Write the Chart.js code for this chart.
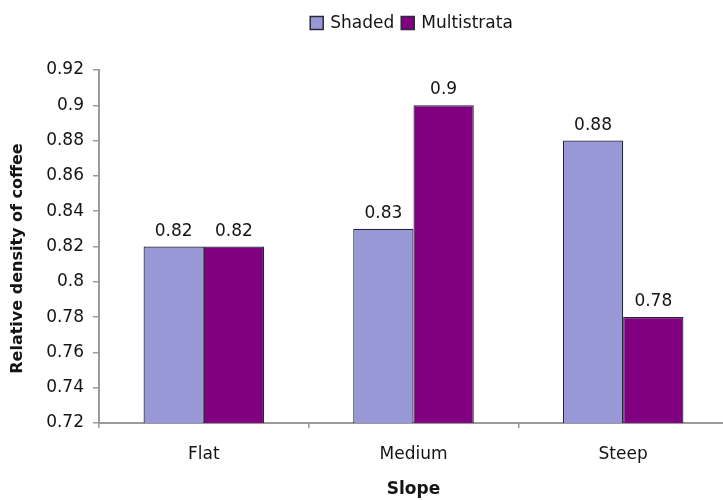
<!DOCTYPE html>
<html>
<head>
<meta charset="utf-8">
<script src="https://cdn.jsdelivr.net/npm/chart.js@4/dist/chart.umd.min.js"></script>
<style>
  html, body { margin: 0; padding: 0; background: #ffffff; overflow: hidden; }
  #wrap { width: 733px; height: 500px; }
</style>
</head>
<body>
<div id="wrap"><canvas id="chart" width="733" height="500"></canvas></div>
<script>
// Slope classes on the x axis
const categories = ['Flat', 'Medium', 'Steep'];
// Relative density of coffee for each system
const shadedValues = [0.82, 0.83, 0.88];
const multistrataValues = [0.82, 0.9, 0.78];
const seriesNames = ['Shaded', 'Multistrata'];
// Value axis range and tick step
const yMin = 0.72;
const yMax = 0.92;
const yStep = 0.02;
const yTitle = 'Relative density of coffee';

const FONT = '"DejaVu Sans", "Liberation Sans", Arial, sans-serif';
const TEXT = '#141414';
const AXIS = '#9a9a9a';

// Value labels above each bar
const valueLabels = {
  id: 'valueLabels',
  afterDatasetsDraw(chart) {
    const ctx = chart.ctx;
    ctx.save();
    ctx.font = '17px ' + FONT;
    ctx.fillStyle = TEXT;
    ctx.textAlign = 'center';
    ctx.textBaseline = 'alphabetic';
    chart.data.datasets.forEach((ds, i) => {
      const meta = chart.getDatasetMeta(i);
      meta.data.forEach((bar, j) => {
        ctx.fillText(String(ds.data[j]), bar.x, bar.y - 11);
      });
    });
    ctx.restore();
  }
};

// Legend row centred over the plot area
const topLegend = {
  id: 'topLegend',
  afterDraw(chart) {
    const ctx = chart.ctx;
    const area = chart.chartArea;
    const box = 13, gapText = 7, gapItem = 7;
    ctx.save();
    ctx.font = '17px ' + FONT;
    ctx.textBaseline = 'middle';
    ctx.textAlign = 'left';
    const items = chart.data.datasets.map(ds => ({
      label: ds.label, color: ds.backgroundColor, w: ctx.measureText(ds.label).width
    }));
    let total = 0;
    items.forEach((it, k) => { total += box + gapText + it.w + (k < items.length - 1 ? gapItem : 0); });
    let x = (area.left + area.right) / 2 - 2 - total / 2;
    const cy = 23;
    items.forEach(it => {
      ctx.fillStyle = it.color;
      ctx.fillRect(x, cy - box / 2, box, box);
      ctx.strokeStyle = '#2a2a3a';
      ctx.lineWidth = 1.5;
      ctx.strokeRect(x, cy - box / 2, box, box);
      ctx.fillStyle = TEXT;
      ctx.fillText(it.label, x + box + gapText, cy + 1);
      x += box + gapText + it.w + gapItem;
    });
    ctx.restore();
  }
};

// Rotated value-axis title, left of the tick labels
const yAxisTitle = {
  id: 'yAxisTitle',
  afterDraw(chart) {
    const ctx = chart.ctx;
    const area = chart.chartArea;
    ctx.save();
    ctx.font = 'bold 16px ' + FONT;
    ctx.fillStyle = TEXT;
    ctx.textAlign = 'center';
    ctx.textBaseline = 'middle';
    ctx.translate(18, (area.top + area.bottom) / 2 + 12);
    ctx.rotate(-Math.PI / 2);
    ctx.fillText(yTitle, 0, 0);
    ctx.restore();
  }
};

new Chart(document.getElementById('chart'), {
  type: 'bar',
  data: {
    labels: categories,
    datasets: [
      {
        label: seriesNames[0],
        data: shadedValues,
        backgroundColor: '#9898d6',
        borderColor: '#23233a',
        borderWidth: 1.2
      },
      {
        label: seriesNames[1],
        data: multistrataValues,
        backgroundColor: '#800080',
        borderColor: '#23233a',
        borderWidth: 1.2
      }
    ]
  },
  options: {
    responsive: false,
    animation: false,
    devicePixelRatio: 1,
    layout: { padding: { top: 70, right: 5, left: 0, bottom: 0 } },
    datasets: { bar: { categoryPercentage: 0.575, barPercentage: 1.0 } },
    plugins: {
      legend: { display: false },
      tooltip: { enabled: false }
    },
    scales: {
      x: {
        grid: { display: true, drawOnChartArea: false, tickLength: 5, color: AXIS, lineWidth: 1.5, offset: true },
        border: { display: true, color: AXIS, width: 2 },
        ticks: { color: TEXT, font: { family: FONT, size: 17 }, padding: 16 },
        title: {
          display: true, text: 'Slope', color: TEXT,
          font: { family: FONT, size: 17, weight: 'bold' },
          padding: { top: 0, bottom: 0 }
        },
        afterFit(scale) { scale.height = 77; }
      },
      y: {
        min: yMin,
        max: yMax,
        grid: { display: true, drawOnChartArea: false, tickLength: 6, color: AXIS, lineWidth: 1.5 },
        border: { display: true, color: AXIS, width: 2 },
        ticks: {
          stepSize: yStep,
          color: TEXT,
          font: { family: FONT, size: 17 },
          padding: 9,
          callback: v => String(Number(v.toFixed(2)))
        },
        afterFit(scale) { scale.width = 99; }
      }
    }
  },
  plugins: [valueLabels, topLegend, yAxisTitle]
});
</script>
</body>
</html>
